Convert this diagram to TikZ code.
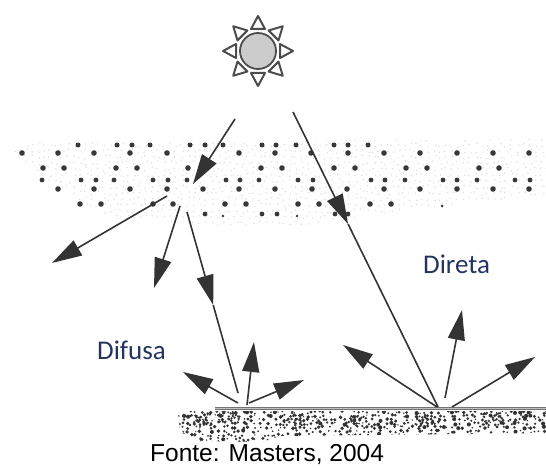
\documentclass[tikz,border=0pt]{standalone}
\usepackage{fontspec}
\setmainfont{Liberation Sans}
\newfontfamily\calibrilike{Carlito}
\usetikzlibrary{arrows.meta,calc}
\definecolor{ray}{gray}{0.2}
\definecolor{labelblue}{RGB}{35,52,95}
\definecolor{sunfill}{gray}{0.8}
\definecolor{sunline}{gray}{0.3}

\begin{document}
\begin{tikzpicture}[x=1pt,y=-1pt,
  beam/.style={draw=ray, line width=1.6pt},
  tip/.style={beam, -{Triangle[length=30pt,width=17pt]}},
  sunray/.style={draw=sunline, fill=white, line width=2pt, line join=round},
  drop/.style={fill=black!78},
  haze/.style={fill=black!13},
  grit/.style={fill=black!80},
  lbl/.style={font=\calibrilike\fontsize{27}{30}\selectfont, text=labelblue, inner sep=0pt, anchor=base west},
]
\useasboundingbox (0,0) rectangle (546,468);

% ---------- sun ----------
\coordinate (sun) at (258,51);
\foreach \a in {0,45,...,315}{
  \filldraw[sunray] ($(sun)+(\a:35pt)$) -- ($(sun)+(\a:22pt)+(\a+90:7pt)$)
    -- ($(sun)+(\a:22pt)+(\a-90:7pt)$) -- cycle;
}
\filldraw[draw=sunline, fill=sunfill, line width=1.8pt] (sun) circle (18pt);

% ---------- cloud layer: fine stipple ----------
\begin{scope}
  \clip (8,152) -- (40,142) -- (546,139) -- (546,196) -- (470,204) -- (380,214)
    -- (300,226) -- (200,226) -- (110,216) -- (70,196) -- cycle;
  \pgfmathsetseed{11}
  \foreach \i in {0,...,91}{
    \foreach \j in {0,...,15}{
      \pgfmathsetmacro\px{\i*6+rnd*4}
      \pgfmathsetmacro\py{137+\j*6+rnd*4}
      \fill[haze] (\px,\py) circle (0.8pt);
    }
  }
\end{scope}

% ---------- cloud layer: droplets ----------
\foreach \x in {78,117,132,150,190,205,223,262,276,296,334,348,368}
  \fill[drop] (\x,145) circle (2.5pt);
\foreach \x in {22,58,94,130,167,239,275,311,348,384,420,457,493,529}
  \fill[drop] (\x,153) circle (2.8pt);
\foreach \x in {43,64,116,137,188,261,282,334,355,406,427,479,499}
  \fill[drop] (\x,168) circle (2.8pt);
\foreach \x in {42,81,96,114,153,168,187,226,240,259,298,313,371,385,405,443,457,477,515,530}
  \fill[drop] (\x,180) circle (2.4pt);
\foreach \x in {58,94,130,167,203,239,275,312,347,384,420,457,493,529}
  \fill[drop] (\x,189) circle (2.8pt);
\foreach \x in {80,101,153,173,225,246,298,319,370,391}
  \fill[drop] (\x,204) circle (2.8pt);
\foreach \x in {205,262,277,335,348}
  \fill[drop] (\x,214) circle (2.4pt);
\fill[drop] (223,216) circle (1.4pt);
\fill[drop] (297,216) circle (1.4pt);
\fill[drop] (442,206) circle (1.5pt);

% ---------- ground ----------
\begin{scope}
  \clip (178,411) -- (546,411) -- (546,433) -- (280,436) -- (262,442)
    -- (200,441) -- (180,432) -- cycle;
  \pgfmathsetseed{5}
  \foreach \i in {0,...,92}{
    \foreach \j in {0,...,8}{
      \pgfmathsetmacro\px{178+\i*4+rnd*3}
      \pgfmathsetmacro\py{411+\j*3.8+rnd*2.5}
      \pgfmathsetmacro\pr{rnd*2.6}
      \ifdim\pr pt>0.9pt \fill[grit] (\px,\py) circle (\pr pt*0.8); \fi
    }
  }
  % denser clumps
  \foreach \cx in {200,227,293,357,427,490}{
    \foreach \k in {1,...,26}{
      \pgfmathsetmacro\px{\cx-11+rnd*24}
      \pgfmathsetmacro\py{413+rnd*14}
      \fill[grit] (\px,\py) circle (1.3pt);
    }
  }
\end{scope}
\coordinate (gA) at (215,408.5);
\coordinate (gB) at (546,408.5);
\draw[draw=black!55, double=black!25, double distance=1.2pt, line width=1.2pt] (gA) -- (gB);

% ---------- radiation paths ----------
% diffuse: into the cloud
\coordinate (dIn)  at (235,119);
\coordinate (dHit) at (193,184);
\draw[tip] (dIn) -- (dHit);

% diffuse: scattered by the cloud
\coordinate (c1) at (167,196);  \coordinate (e1) at (52,263);
\coordinate (c2) at (180,206);  \coordinate (e2) at (154,288);
\coordinate (c3) at (187,212);  \coordinate (dGnd) at (238,393);
\coordinate (d3) at ($(c3)!0.514!(dGnd)$);
\draw[tip] (c1) -- (e1);
\draw[tip] (c2) -- (e2);
\draw[tip] (c3) -- (d3);
\draw[beam] (d3) -- (dGnd);

% direct beam
\coordinate (sIn)  at (293,112);
\coordinate (sGnd) at (438,407);
\coordinate (sMid) at ($(sIn)!0.38!(sGnd)$);
\draw[tip] (sIn) -- (sMid);
\draw[beam] (sMid) -- (sGnd);

% reflection under the diffuse beam
\coordinate (l1) at (238,403); \coordinate (m1) at (183,372);
\coordinate (l2) at (247,405); \coordinate (m2) at (254,342);
\coordinate (l3) at (249,403); \coordinate (m3) at (304,380);
\draw[tip] (l1) -- (m1);
\draw[tip] (l2) -- (m2);
\draw[tip] (l3) -- (m3);

% reflection under the direct beam
\coordinate (r1) at (437,407); \coordinate (n1) at (343,345);
\coordinate (r2) at (445,398); \coordinate (n2) at (462,310);
\coordinate (r3) at (452,407); \coordinate (n3) at (535,357);
\draw[tip] (r1) -- (n1);
\draw[tip] (r2) -- (n2);
\draw[tip] (r3) -- (n3);

% ---------- labels ----------
\node[lbl] (difusa) at (97,359) {Difusa};
\node[lbl] (direta) at (423,273) {Direta};
\node[font=\fontsize{24.5}{28}\selectfont, inner sep=0pt, anchor=base west] (fonte) at (150,461) {Fonte: Masters, 2004};
\end{tikzpicture}
\end{document}
